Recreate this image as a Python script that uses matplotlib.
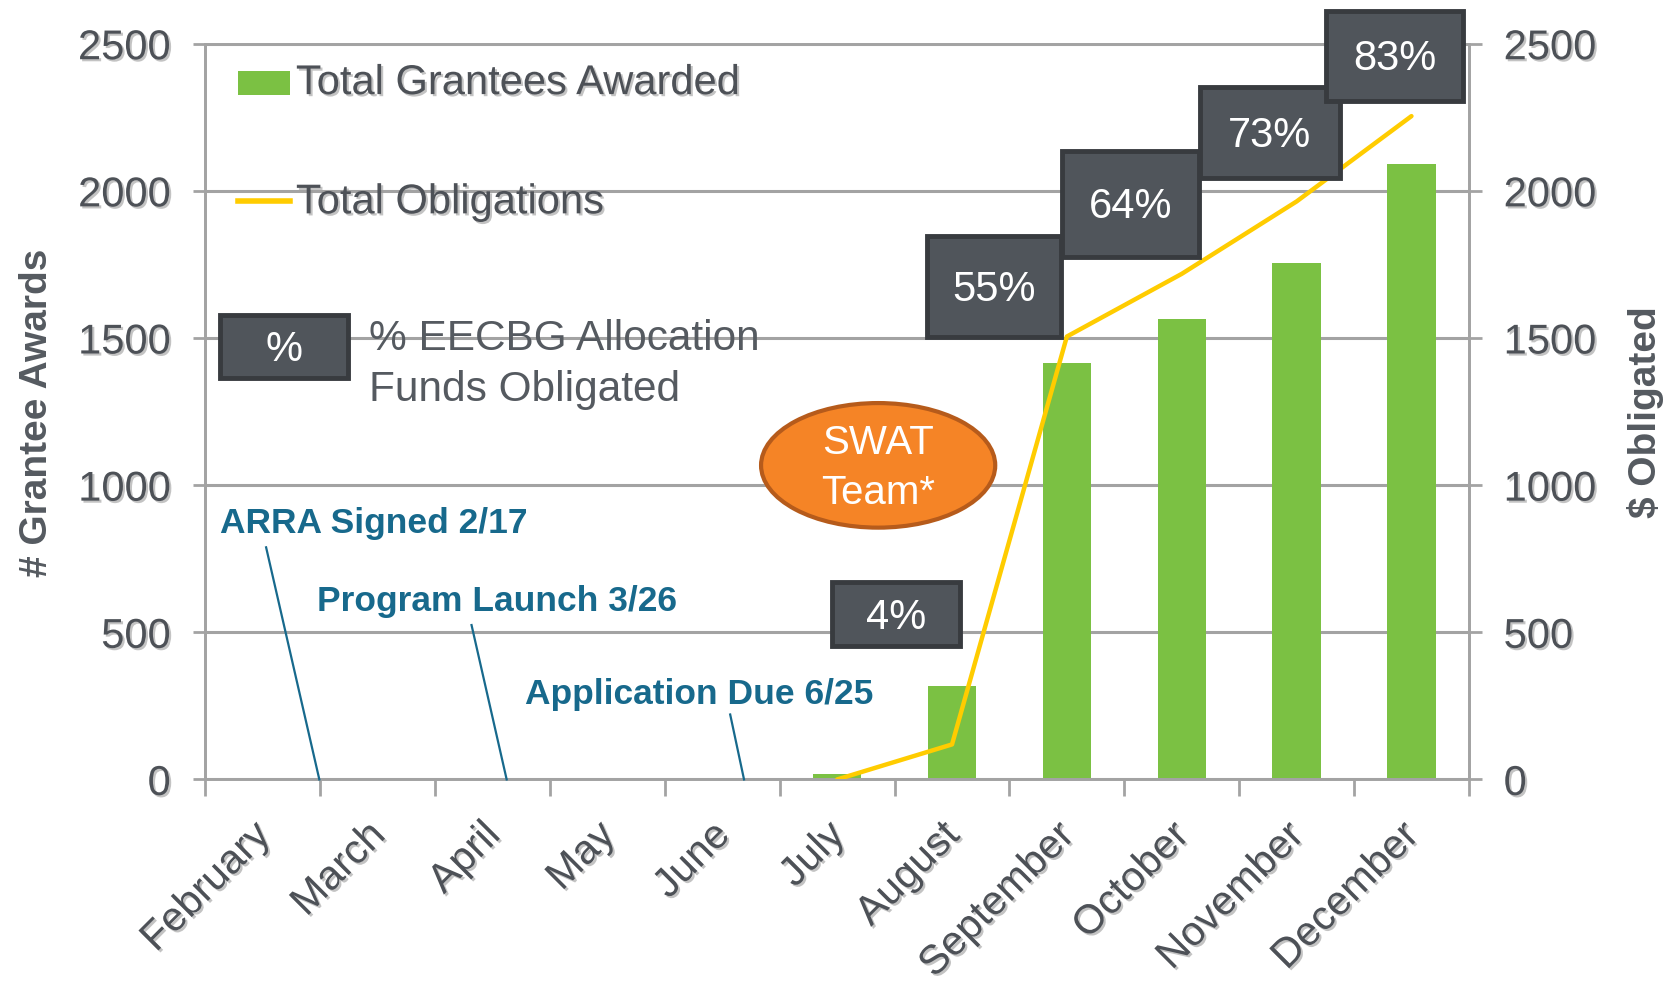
import numpy as np
import matplotlib.pyplot as plt
from matplotlib.patches import Rectangle, Ellipse
from matplotlib.lines import Line2D
from matplotlib.transforms import ScaledTranslation
import matplotlib.patheffects as pe

plt.rcParams['font.family'] = ['Liberation Sans', 'DejaVu Sans']

# data
months = ['February', 'March', 'April', 'May', 'June', 'July', 'August',
          'September', 'October', 'November', 'December']
grantees = [0, 0, 0, 0, 0, 20, 318, 1415, 1563, 1755, 2091]
oblig_start = 5  # obligations line starts in July
obligations = [0, 119, 1505, 1718, 1964, 2254]
pct_labels = ['4%', '55%', '64%', '73%', '83%']
events = ['ARRA Signed 2/17', 'Program Launch 3/26', 'Application Due 6/25']

GREEN = '#7bc143'
YELLOW = '#ffcc00'
GRID = '#a3a3a3'
TXT = '#4d5157'
BOX = '#50555b'
BOXEDGE = '#383b3f'
BLUE = '#17698c'

W, H = 1568.0, 927.0  # layout grid (reference pixels)


def fxy(px, py):
    return px / W, 1 - py / H


shadow = [pe.withSimplePatchShadow(offset=(1.5, -1.5), shadow_rgbFace='#9c9c9c', alpha=0.6)]

fig = plt.figure(figsize=(16.69, 9.87), dpi=100)
ax = fig.add_axes([193 / W, 1 - 733 / H, (1380 - 193) / W, (733 - 42) / H])

x = np.arange(len(months))
ax.bar(x, grantees, width=0.42, color=GREEN, zorder=2)
ax.set_xlim(-0.5, len(months) - 0.5)
ax.set_ylim(0, 2500)
ax.set_yticks(range(0, 2501, 500))
ax.yaxis.grid(True, color=GRID, lw=2.2)
ax.set_axisbelow(True)

ax2 = ax.twinx()
ax2.plot(x[oblig_start:], obligations, color=YELLOW, lw=3.2, zorder=3, solid_capstyle='round')
ax2.set_ylim(0, 2500)
ax2.set_yticks(range(0, 2501, 500))

for a in (ax, ax2):
    for s in a.spines.values():
        s.set_color(GRID)
        s.set_linewidth(2)
    a.tick_params(axis='y', length=9, width=2, color=GRID, labelsize=30,
                  labelcolor=TXT, pad=16)

ax.set_xticks(x)
ax.set_xticklabels(months, rotation=45, ha='right', va='top', rotation_mode='anchor')
ax.set_xticks(np.arange(-0.5, len(months), 1), minor=True)
ax.tick_params(axis='x', which='major', length=0, labelsize=29.5, labelcolor=TXT, pad=26)
ax.tick_params(axis='x', which='minor', length=12, width=2, color=GRID)

shift = ScaledTranslation(-0.12, 0.0, fig.dpi_scale_trans)
for lab in ax.get_xticklabels():
    lab.set_transform(lab.get_transform() + shift)

for lab in ax.get_xticklabels() + ax.get_yticklabels() + ax2.get_yticklabels():
    lab.set_path_effects(shadow)

ax.set_ylabel('# Grantee Awards', fontsize=28, fontweight='bold', color='#555a60')
ax.yaxis.set_label_coords(-0.119, 0.5)
ax2.set_ylabel('$ Obligated', fontsize=28, fontweight='bold', color='#555a60', rotation=90)
ax2.yaxis.set_label_coords(1.125, 0.5)

# legend (drawn by hand)
x0, y0 = fxy(224, 90)
fig.add_artist(Rectangle((x0, y0), 48 / W, 22 / H, transform=fig.transFigure,
                         facecolor=GREEN, edgecolor='none'))
fig.text(*fxy(278, 79), 'Total Grantees Awarded', fontsize=30, color=TXT,
         va='center', ha='left', path_effects=shadow)
fig.add_artist(Line2D([224 / W, 272 / W], [1 - 190 / H] * 2, transform=fig.transFigure,
                      color=YELLOW, lw=4))
fig.text(*fxy(278, 191), 'Total Obligations', fontsize=30, color=TXT,
         va='center', ha='left', path_effects=shadow)


def dark_box(px0, py0, px1, py1, label):
    bx, by = fxy(px0, py1)
    fig.add_artist(Rectangle((bx, by), (px1 - px0) / W, (py1 - py0) / H,
                             transform=fig.transFigure, facecolor=BOX,
                             edgecolor=BOXEDGE, lw=3.5, zorder=5))
    fig.text(*fxy((px0 + px1) / 2, (py0 + py1) / 2 + 2), label, fontsize=30, color='white',
             ha='center', va='center', zorder=6)


dark_box(207, 297, 327, 356, '%')
fig.text(*fxy(347, 318), '% EECBG Allocation', fontsize=30.5, color='#555a60',
         va='center', ha='left')
fig.text(*fxy(347, 366), 'Funds Obligated', fontsize=30.5, color='#555a60',
         va='center', ha='left')

boxes = [(782, 548, 902, 608), (871, 223, 997, 317), (998, 143, 1126, 242),
         (1127, 83, 1259, 168), (1246, 11, 1374, 96)]
for (b0, b1, b2, b3), lab in zip(boxes, pct_labels):
    dark_box(b0, b1, b2, b3, lab)

# SWAT Team bubble
fig.add_artist(Ellipse(fxy(825, 438), 220 / W, 117 / H, transform=fig.transFigure,
                       facecolor='#f58426', edgecolor='#b65b1b', lw=3, zorder=5))
fig.text(*fxy(825, 416), 'SWAT', fontsize=29, color='white', ha='center', va='center', zorder=6)
fig.text(*fxy(825, 463), 'Team*', fontsize=29, color='white', ha='center', va='center', zorder=6)

# event call-outs
ev_text = [(207, 492), (298, 565), (493, 652)]
ev_line = [((250, 515), (300, 733)), ((443, 588), (476, 733)), ((686, 672), (699, 733))]
for lab, (tx, ty), (p, q) in zip(events, ev_text, ev_line):
    fig.text(*fxy(tx, ty), lab, fontsize=25.5, fontweight='bold', color=BLUE,
             ha='left', va='center')
    (ax_, ay_), (bx_, by_) = fxy(*p), fxy(*q)
    fig.add_artist(Line2D([ax_, bx_], [ay_, by_], transform=fig.transFigure,
                          color=BLUE, lw=1.6))

fig.savefig('out.png', dpi=100)
